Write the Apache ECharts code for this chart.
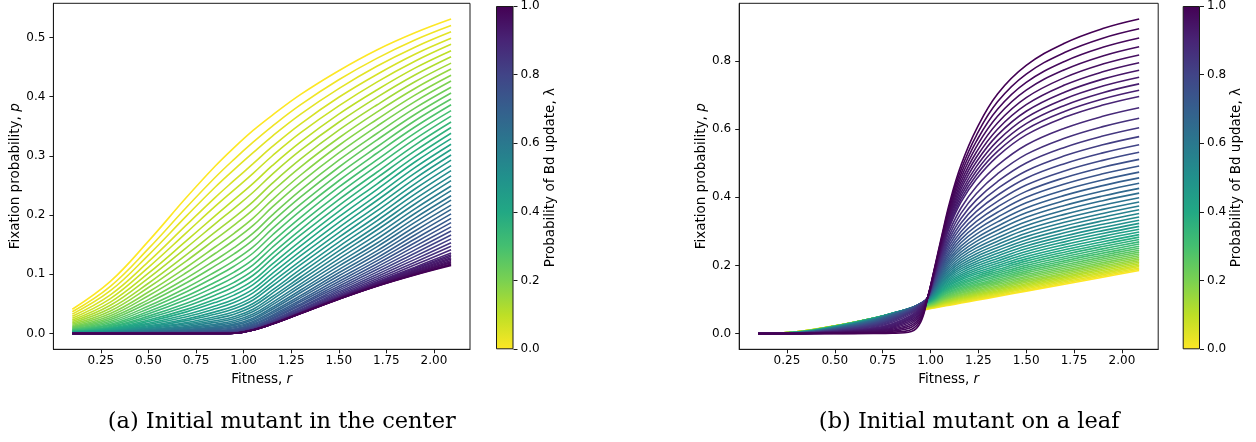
<!DOCTYPE html>
<html><head><meta charset="utf-8">
<script src="https://cdn.jsdelivr.net/npm/echarts@6/dist/echarts.min.js"></script>
<style>html,body{margin:0;padding:0;background:#fff}#c{width:1256px;height:442px}</style>
</head><body><div id="c"></div>
<script>
// lambda (probability of Bd update) for each drawn curve
const lambdas = [0,0.02,0.04,0.06,0.08,0.1,0.12,0.14,0.16,0.18,0.2,0.22,0.24,0.26,0.28,0.3,0.32,0.34,0.36,0.38,0.4,0.42,0.44,0.46,0.48,0.5,0.52,0.54,0.56,0.58,0.6,0.62,0.64,0.66,0.68,0.7,0.72,0.74,0.76,0.78,0.8,0.82,0.84,0.86,0.88,0.9,0.92,0.94,0.96,0.98,1];
// extra curves read between the ones above, closest to lambda = 1
const lambdasFine = [0.91,0.93,0.95,0.97,0.99];

// (a) initial mutant in the center: one array per fitness r, one entry per lambda
const rCenter = [0.1,0.3,0.5,0.7,0.85,0.95,1.05,1.15,1.3,1.5,1.7,1.9,2.09];
const pCenter = [
 [.041,.0367,.0328,.0291,.0259,.0229,.0203,.0179,.0157,.0137,.0120,.0105,.0091,.0078,.0067,.0057,.0049,.0041,.0035,.0030,.0025,.0021,.0017,.0014,.0011,.0009,.0007,.0006,.0005,.0004,.0003,.0002,.0002,.0001,.0001,.0001,.0001,0,0,0,0,0,0,0,0,0,0,0,0,0,0],
 [.088,.0798,.0723,.0653,.0590,.0531,.0477,.0426,.0381,.0339,.0302,.0267,.0236,.0207,.0182,.0158,.0138,.0119,.0103,.0088,.0076,.0064,.0054,.0045,.0038,.0031,.0026,.0021,.0017,.0014,.0011,.0009,.0007,.0005,.0004,.0003,.0002,.0001,.0001,0,0,0,0,0,0,0,0,0,0,0,0],
 [.156,.1433,.1325,.1213,.1118,.1019,.0936,.0849,.0777,.0701,.0639,.0573,.0520,.0464,.0419,.0372,.0334,.0294,.0262,.0228,.0202,.0174,.0153,.0131,.0114,.0096,.0083,.0069,.0059,.0048,.0040,.0032,.0026,.0020,.0016,.0013,.0010,.0007,.0005,.0003,.0002,.0001,.0001,0,0,0,0,0,0,0,0],
 [.230,.2132,.1986,.1834,.1704,.1568,.1452,.1331,.1228,.1120,.1030,.0936,.0857,.0774,.0705,.0633,.0574,.0511,.0461,.0408,.0366,.0321,.0285,.0247,.0218,.0187,.0164,.0139,.0120,.0100,.0085,.0069,.0058,.0046,.0038,.0029,.0024,.0018,.0014,.0010,.0007,.0004,.0003,.0002,.0001,0,0,0,0,0,0],
 [.2825,.2635,.2470,.2296,.2146,.1988,.1852,.1711,.1589,.1461,.1352,.1238,.1142,.1040,.0956,.0866,.0791,.0713,.0648,.0579,.0524,.0465,.0417,.0366,.0327,.0284,.0251,.0215,.0188,.0158,.0137,.0113,.0096,.0079,.0066,.0052,.0043,.0033,.0026,.0018,.0014,.0010,.0007,.0005,.0003,.0002,.0001,0,0,0,0],
 [.3140,.2942,.2768,.2585,.2426,.2260,.2115,.1962,.1831,.1693,.1575,.1450,.1344,.1232,.1137,.1037,.0953,.0864,.0791,.0712,.0649,.0580,.0524,.0465,.0418,.0367,.0327,.0283,.0251,.0215,.0188,.0159,.0138,.0114,.0097,.0078,.0066,.0052,.0043,.0033,.0027,.0020,.0016,.0011,.0009,.0007,.0006,.0005,.0005,.0005,.0005],
 [.343,.3231,.3054,.2869,.2706,.2536,.2386,.2229,.2092,.1949,.1825,.1694,.1581,.1462,.1360,.1252,.1161,.1065,.0984,.0898,.0826,.0750,.0687,.0620,.0566,.0507,.0461,.0411,.0372,.0329,.0296,.0260,.0234,.0205,.0184,.0160,.0144,.0126,.0114,.0100,.0092,.0082,.0077,.0070,.0067,.0063,.0062,.0061,.006,.006,.006],
 [.3685,.3499,.3331,.3155,.2998,.2834,.2689,.2535,.2399,.2257,.2133,.2001,.1887,.1766,.1660,.1549,.1453,.1351,.1265,.1172,.1094,.1011,.0940,.0865,.0803,.0733,.0679,.0621,.0574,.0523,.0483,.0439,.0406,.0369,.0341,.0310,.0288,.0263,.0246,.0226,.0213,.0198,.0190,.0179,.0174,.0167,.0165,.0162,.0161,.0160,.016],
 [.4038,.3864,.3706,.3541,.3392,.3236,.3096,.2948,.2816,.2677,.2553,.2423,.2306,.2184,.2076,.1962,.1861,.1756,.1664,.1566,.1482,.1391,.1315,.1232,.1162,.1086,.1022,.0955,.0900,.0839,.0790,.0735,.0693,.0642,.0606,.0566,.0536,.0501,.0477,.0449,.0430,.0408,.0394,.0377,.0368,.0356,.0351,.0345,.0342,.0341,.034],
 [.4438,.4285,.4136,.3989,.3845,.3705,.3568,.3433,.3302,.3175,.3050,.2927,.2808,.2693,.2580,.2471,.2364,.2260,.2161,.2063,.1969,.1878,.1790,.1705,.1623,.1545,.1469,.1396,.1327,.1261,.1197,.1138,.1080,.1026,.0975,.0924,.0879,.0838,.0800,.0765,.0733,.0704,.0678,.0655,.0635,.0618,.0604,.0594,.0586,.0582,.058],
 [.4788,.4646,.4513,.4375,.4246,.4112,.3988,.3859,.3739,.3614,.3499,.3378,.3267,.3150,.3044,.2932,.2830,.2723,.2627,.2524,.2431,.2333,.2246,.2152,.2070,.1981,.1903,.1820,.1748,.1669,.1597,.1524,.1463,.1395,.1339,.1277,.1227,.1175,.1126,.1080,.1037,.0997,.0960,.0927,.0897,.0870,.0848,.0829,.0814,.0804,.080],
 [.5078,.4956,.4835,.4716,.4597,.4481,.4365,.4251,.4138,.4025,.3916,.3806,.3699,.3593,.3488,.3384,.3282,.3182,.3083,.2986,.2896,.2801,.2708,.2617,.2528,.2440,.2354,.2269,.2187,.2106,.2027,.1950,.1876,.1803,.1732,.1664,.1597,.1534,.1472,.1413,.1357,.1303,.1252,.1205,.1160,.1120,.1083,.1050,.1023,.1001,.099],
 [.531,.5200,.5095,.4986,.4883,.4775,.4673,.4566,.4466,.4361,.4263,.4159,.4062,.3960,.3864,.3763,.3670,.3571,.3479,.3382,.3292,.3196,.3108,.3014,.2928,.2835,.2752,.2662,.2581,.2492,.2414,.2327,.2252,.2168,.2096,.2020,.1945,.1872,.1801,.1731,.1663,.1598,.1534,.1473,.1414,.1359,.1306,.1257,.1213,.1176,.115]
];
const pCenterFine = [
 [0,0,0,0,0],
 [0,0,0,0,0],
 [0,0,0,0,0],
 [0,0,0,0,0],
 [.0001,.0001,0,0,0],
 [.0006,.0005,.0005,.0005,.0005],
 [.0062,.0061,.0060,.0060,.0060],
 [.0166,.0163,.0161,.0160,.0160],
 [.0353,.0348,.0343,.0341,.0340],
 [.0611,.0599,.0590,.0584,.0581],
 [.0859,.0838,.0821,.0809,.0801],
 [.1101,.1066,.1036,.1012,.0994],
 [.1332,.1281,.1235,.1194,.1162]
];

// (b) initial mutant on a leaf
const rLeaf = [0.1,0.3,0.5,0.7,0.8,0.9,0.95,0.985,1.02,1.06,1.1,1.16,1.24,1.35,1.5,1.7,1.9,2.09];
const pLeaf = [
 [.0003,.0003,.0003,.0003,.0003,.0003,.0003,.0003,.0003,.0003,.0002,.0002,.0002,.0002,.0002,.0002,.0002,.0002,.0002,.0002,.0002,.0002,.0002,.0002,.0002,.0001,.0001,.0001,.0001,.0001,.0001,.0001,.0001,.0001,.0001,.0001,.0001,.0001,.0001,.0001,0,0,0,0,0,0,0,0,0,0,0],
 [.0055,.0054,.0053,.0051,.0050,.0049,.0048,.0047,.0045,.0044,.0043,.0042,.0041,.0039,.0038,.0037,.0036,.0035,.0033,.0032,.0031,.0030,.0029,.0027,.0026,.0025,.0024,.0023,.0021,.0020,.0019,.0018,.0017,.0016,.0015,.0014,.0013,.0012,.0011,.0010,.0009,.0008,.0007,.0006,.0005,.0004,.0003,.0002,.0002,.0001,0],
 [.0226,.0226,.0225,.0225,.0224,.0224,.0223,.0222,.0221,.0220,.0219,.0218,.0216,.0215,.0213,.0211,.0209,.0207,.0204,.0202,.0199,.0196,.0193,.0189,.0186,.0182,.0178,.0174,.0169,.0165,.0160,.0155,.0149,.0144,.0138,.0132,.0125,.0118,.0111,.0104,.0096,.0088,.0079,.0070,.0061,.0052,.0042,.0032,.0021,.0011,0],
 [.0430,.0433,.0435,.0438,.0440,.0442,.0444,.0445,.0446,.0447,.0448,.0448,.0448,.0448,.0448,.0448,.0447,.0446,.0444,.0442,.0440,.0437,.0433,.0430,.0426,.0422,.0417,.0411,.0405,.0399,.0392,.0384,.0375,.0366,.0356,.0345,.0333,.0319,.0304,.0288,.0270,.0250,.0229,.0206,.0181,.0155,.0126,.0096,.0065,.0033,.0002],
 [.0530,.0535,.0540,.0545,.0550,.0555,.0559,.0563,.0567,.0571,.0575,.0578,.0581,.0584,.0586,.0588,.0590,.0591,.0592,.0593,.0593,.0593,.0592,.0591,.0590,.0588,.0585,.0582,.0578,.0574,.0570,.0564,.0557,.0549,.0540,.0530,.0518,.0504,.0488,.0470,.0450,.0426,.0400,.0370,.0332,.0290,.0242,.0188,.0130,.0070,.0008],
 [.0630,.0637,.0644,.0651,.0658,.0665,.0672,.0678,.0685,.0691,.0697,.0703,.0708,.0713,.0718,.0723,.0727,.0731,.0735,.0739,.0742,.0745,.0747,.0749,.0751,.0753,.0754,.0755,.0755,.0755,.0755,.0754,.0752,.0749,.0745,.0740,.0734,.0726,.0716,.0704,.0690,.0672,.0650,.0623,.0586,.0540,.0480,.0400,.0300,.0185,.0060],
 [.0680,.0689,.0698,.0707,.0716,.0725,.0734,.0743,.0752,.0761,.0770,.0778,.0786,.0794,.0802,.0810,.0817,.0824,.0831,.0837,.0843,.0848,.0854,.0859,.0864,.0868,.0872,.0875,.0878,.0881,.0884,.0886,.0888,.0889,.0890,.0890,.0890,.0888,.0885,.0881,.0875,.0866,.0855,.0840,.0815,.0780,.0730,.0665,.0585,.0480,.0350],
 [.0718,.0729,.0741,.0752,.0764,.0775,.0786,.0797,.0808,.0819,.0830,.0841,.0852,.0863,.0874,.0885,.0895,.0905,.0915,.0925,.0935,.0944,.0953,.0961,.0970,.0978,.0985,.0992,.0999,.1006,.1012,.1018,.1023,.1028,.1033,.1037,.1041,.1044,.1047,.1050,.1053,.1055,.1057,.1058,.1059,.1060,.1060,.1058,.1056,.1053,.1050],
 [.0753,.0766,.0779,.0792,.0806,.0820,.0834,.0848,.0863,.0878,.0893,.0908,.0924,.0940,.0957,.0974,.0991,.1008,.1026,.1044,.1063,.1082,.1102,.1122,.1142,.1163,.1184,.1206,.1228,.1251,.1274,.1298,.1323,.1348,.1374,.1401,.1428,.1456,.1484,.1514,.1544,.1575,.1607,.1640,.1674,.1709,.1745,.1782,.1820,.1859,.1900],
 [.0794,.0813,.0832,.0851,.0871,.0891,.0912,.0933,.0955,.0978,.1001,.1024,.1048,.1073,.1099,.1125,.1152,.1179,.1208,.1237,.1267,.1298,.1330,.1363,.1397,.1432,.1468,.1506,.1544,.1584,.1625,.1668,.1712,.1758,.1805,.1855,.1906,.1959,.2013,.2071,.2131,.2193,.2258,.2326,.2397,.2471,.2549,.2630,.2716,.2806,.2900],
 [.0835,.0857,.0879,.0902,.0926,.0950,.0975,.1001,.1027,.1054,.1082,.1111,.1141,.1171,.1203,.1235,.1269,.1304,.1339,.1376,.1415,.1455,.1496,.1538,.1583,.1628,.1676,.1726,.1777,.1831,.1887,.1945,.2006,.2069,.2136,.2206,.2278,.2355,.2435,.2520,.2609,.2702,.2801,.2906,.3017,.3135,.3260,.3393,.3535,.3687,.3850],
 [.0896,.0921,.0947,.0973,.1000,.1028,.1057,.1087,.1117,.1149,.1182,.1215,.1250,.1286,.1323,.1362,.1402,.1443,.1486,.1531,.1577,.1626,.1676,.1728,.1782,.1839,.1898,.1960,.2024,.2092,.2163,.2237,.2315,.2398,.2484,.2575,.2672,.2773,.2881,.2996,.3117,.3247,.3385,.3533,.3692,.3862,.4046,.4245,.4460,.4694,.4950],
 [.0978,.1006,.1034,.1063,.1093,.1124,.1157,.1190,.1224,.1259,.1296,.1334,.1373,.1414,.1456,.1499,.1545,.1592,.1641,.1692,.1745,.1800,.1858,.1918,.1981,.2047,.2115,.2188,.2263,.2343,.2427,.2515,.2608,.2706,.2810,.2920,.3037,.3162,.3294,.3436,.3587,.3749,.3924,.4112,.4316,.4537,.4778,.5041,.5329,.5647,.6000],
 [.1090,.1120,.1151,.1183,.1216,.1251,.1286,.1322,.1360,.1399,.1439,.1481,.1525,.1570,.1616,.1665,.1715,.1768,.1822,.1879,.1939,.2000,.2065,.2133,.2204,.2278,.2356,.2438,.2524,.2614,.2710,.2811,.2918,.3031,.3151,.3278,.3414,.3559,.3715,.3881,.4060,.4253,.4461,.4687,.4934,.5202,.5497,.5822,.6181,.6582,.7030],
 [.1246,.1280,.1314,.1350,.1387,.1425,.1464,.1505,.1547,.1591,.1636,.1682,.1731,.1781,.1833,.1887,.1943,.2002,.2063,.2126,.2192,.2261,.2334,.2409,.2488,.2571,.2658,.2749,.2845,.2946,.3053,.3165,.3284,.3410,.3544,.3686,.3838,.4000,.4173,.4359,.4558,.4773,.5006,.5258,.5532,.5832,.6161,.6523,.6924,.7370,.7870],
 [.1450,.1486,.1523,.1561,.1600,.1641,.1683,.1727,.1771,.1818,.1866,.1916,.1967,.2021,.2077,.2134,.2194,.2257,.2322,.2389,.2460,.2534,.2611,.2691,.2776,.2864,.2957,.3054,.3157,.3264,.3378,.3498,.3625,.3760,.3903,.4055,.4216,.4389,.4574,.4772,.4985,.5215,.5463,.5732,.6025,.6345,.6695,.7082,.7510,.7986,.8520],
 [.1654,.1691,.1729,.1769,.1809,.1851,.1895,.1939,.1986,.2034,.2083,.2135,.2188,.2243,.2301,.2360,.2422,.2486,.2554,.2623,.2696,.2772,.2852,.2935,.3022,.3113,.3209,.3309,.3415,.3526,.3644,.3768,.3899,.4038,.4185,.4342,.4509,.4687,.4878,.5082,.5302,.5539,.5795,.6073,.6375,.6705,.7067,.7466,.7908,.8399,.8950],
 [.1850,.1888,.1926,.1966,.2007,.2050,.2093,.2139,.2185,.2234,.2284,.2336,.2390,.2446,.2504,.2564,.2627,.2692,.2760,.2831,.2904,.2981,.3062,.3146,.3234,.3326,.3423,.3524,.3631,.3744,.3863,.3988,.4121,.4261,.4410,.4569,.4738,.4918,.5111,.5318,.5540,.5780,.6039,.6320,.6625,.6959,.7326,.7729,.8176,.8673,.9230]
];
const pLeafFine = [
 [0,0,0,0,0],
 [.0003,.0002,.0002,.0001,0],
 [.0047,.0037,.0026,.0016,.0005],
 [.0141,.0111,.0081,.0049,.0018],
 [.0267,.0215,.0159,.0100,.0039],
 [.0512,.0442,.0352,.0243,.0123],
 [.0756,.0699,.0627,.0535,.0417],
 [.1060,.1059,.1057,.1055,.1052],
 [.1727,.1763,.1801,.1840,.1880],
 [.2510,.2589,.2673,.2760,.2852],
 [.3196,.3325,.3463,.3610,.3767],
 [.3952,.4143,.4350,.4575,.4819],
 [.4655,.4906,.5181,.5484,.5819],
 [.5346,.5656,.5997,.6376,.6799],
 [.5992,.6337,.6718,.7141,.7613],
 [.6516,.6884,.7291,.7742,.8245],
 [.6882,.7262,.7681,.8147,.8667],
 [.7138,.7522,.7947,.8418,.8943]
];

// tick labels
const xTicks = [0.25,0.5,0.75,1.0,1.25,1.5,1.75,2.0];
const yTicksCenter = [0,0.1,0.2,0.3,0.4,0.5];
const yTicksLeaf = [0,0.2,0.4,0.6,0.8];
const cbTicks = [0,0.2,0.4,0.6,0.8,1.0];
const captions = ['(a) Initial mutant in the center','(b) Initial mutant on a leaf'];

// viridis colormap stops (style)
const viridis = ['#440154','#482475','#414487','#355f8d','#2a788e','#21918c','#22a884','#44bf70','#7ad151','#bddf26','#fde725'];
function hex2rgb(h){return [parseInt(h.slice(1,3),16),parseInt(h.slice(3,5),16),parseInt(h.slice(5,7),16)];}
function cmap(t){
  t=Math.max(0,Math.min(1,t));
  const s=t*10, i=Math.min(9,Math.floor(s)), f=s-i;
  const a=hex2rgb(viridis[i]), b=hex2rgb(viridis[i+1]);
  const c=a.map((v,k)=>Math.round(v+(b[k]-v)*f));
  return 'rgb('+c.join(',')+')';
}
const lamColor = lam => cmap(1-lam);

const FONT='DejaVu Sans', INK='#000', SPINE='#1a1a1a';

// every curve, drawn in increasing lambda (purple on top)
const curves = [];
lambdas.forEach((lam,j)=>curves.push({lam:lam, pick:(main,fine,i)=>main[i][j]}));
lambdasFine.forEach((lam,j)=>curves.push({lam:lam, pick:(main,fine,i)=>fine[i][j]}));
curves.sort((a,b)=>a.lam-b.lam);

function buildSeries(rs, main, fine, idx){
  return curves.map(cv=>({
    type:'line', xAxisIndex:idx, yAxisIndex:idx, symbol:'none', showSymbol:false,
    smooth:0.4, silent:true, animation:false,
    lineStyle:{width:1.6, color:lamColor(cv.lam)}, itemStyle:{color:lamColor(cv.lam)},
    data: rs.map((r,i)=>[r, cv.pick(main,fine,i)])
  }));
}

function xAxisMain(idx){
  return {type:'value', gridIndex:idx, min:0.0005, max:2.1895,
    axisLine:{show:true, onZero:false, lineStyle:{color:SPINE,width:1}},
    axisTick:{show:true, inside:false, length:4, customValues:xTicks, lineStyle:{color:SPINE}},
    axisLabel:{customValues:xTicks, formatter:v=>v.toFixed(2), color:INK, fontFamily:FONT, fontSize:12, margin:6},
    splitLine:{show:false},
    name:'Fitness, {i|r}', nameLocation:'middle', nameGap:21,
    nameTextStyle:{color:INK, fontFamily:FONT, fontSize:13.5, verticalAlign:'top',
      rich:{i:{fontStyle:'italic', fontFamily:FONT, fontSize:13.5, color:INK}}}
  };
}
function yAxisMain(idx, min, max, ticks){
  return {type:'value', gridIndex:idx, min:min, max:max,
    axisLine:{show:true, onZero:false, lineStyle:{color:SPINE,width:1}},
    axisTick:{show:true, inside:false, length:4, customValues:ticks, lineStyle:{color:SPINE}},
    axisLabel:{customValues:ticks, formatter:v=>v.toFixed(1), color:INK, fontFamily:FONT, fontSize:12, margin:8},
    splitLine:{show:false},
    name:'Fixation probability, {i|p}', nameLocation:'middle', nameGap:31, nameRotate:90,
    nameTextStyle:{color:INK, fontFamily:FONT, fontSize:13.5,
      rich:{i:{fontStyle:'italic', fontFamily:FONT, fontSize:13.5, color:INK}}}
  };
}
function cbX(idx){return {type:'category', gridIndex:idx, data:['cb'], show:false, boundaryGap:true};}
function cbY(idx){
  return {type:'value', gridIndex:idx, min:0, max:1, position:'right',
    axisLine:{show:false},
    axisTick:{show:true, inside:false, length:4, customValues:cbTicks, lineStyle:{color:SPINE}},
    axisLabel:{customValues:cbTicks, formatter:v=>v.toFixed(1), color:INK, fontFamily:FONT, fontSize:12, margin:7},
    splitLine:{show:false},
    name:'Probability of Bd update, λ', nameLocation:'middle', nameGap:27, nameRotate:90,
    nameTextStyle:{color:INK, fontFamily:FONT, fontSize:13.5}
  };
}
function cbSeries(idx){
  const stops = viridis.map((c,k)=>({offset:k/10, color:c}));
  return {type:'bar', xAxisIndex:idx, yAxisIndex:idx, data:[1], barWidth:'100%', silent:true, animation:false,
    itemStyle:{color:new echarts.graphic.LinearGradient(0,0,0,1,stops), borderColor:SPINE, borderWidth:1}};
}

// sanity check of table shapes
const problems=[];
pCenter.forEach((c,i)=>{if(c.length!==lambdas.length)problems.push('C'+i+':'+c.length);});
pLeaf.forEach((c,i)=>{if(c.length!==lambdas.length)problems.push('L'+i+':'+c.length);});
pCenterFine.forEach((c,i)=>{if(c.length!==lambdasFine.length)problems.push('CF'+i+':'+c.length);});
pLeafFine.forEach((c,i)=>{if(c.length!==lambdasFine.length)problems.push('LF'+i+':'+c.length);});
if(pCenter.length!==rCenter.length||pCenterFine.length!==rCenter.length)problems.push('nC');
if(pLeaf.length!==rLeaf.length||pLeafFine.length!==rLeaf.length)problems.push('nL');

const chart = echarts.init(document.getElementById('c'), null, {renderer:'canvas'});
const gridBox = {show:true, borderColor:SPINE, borderWidth:1, backgroundColor:'rgba(0,0,0,0)'};
const graphics = [
  {type:'text', style:{x:281.7, y:422, text:captions[0], font:'22.5px "DejaVu Serif"', fill:INK, align:'center', verticalAlign:'middle', textAlign:'center', textVerticalAlign:'middle'}},
  {type:'text', style:{x:969.2, y:422, text:captions[1], font:'22.5px "DejaVu Serif"', fill:INK, align:'center', verticalAlign:'middle', textAlign:'center', textVerticalAlign:'middle'}}
];
if(problems.length) graphics.push({type:'text', style:{x:600, y:200, text:'BAD '+problems.join(' '), font:'16px sans-serif', fill:'red'}});
chart.setOption({
  animation:false,
  backgroundColor:'#fff',
  grid:[
    Object.assign({left:53.4, top:3.3, width:416.6, height:346}, gridBox),
    Object.assign({left:739.2, top:3.3, width:419, height:346}, gridBox),
    {left:496, top:3.3, width:17.5, height:346},
    {left:1182.7, top:3.3, width:17.3, height:346}
  ],
  xAxis:[xAxisMain(0), xAxisMain(1), cbX(2), cbX(3)],
  yAxis:[yAxisMain(0,-0.0266,0.5576,yTicksCenter), yAxisMain(1,-0.0461,0.9691,yTicksLeaf), cbY(2), cbY(3)],
  series:[].concat(buildSeries(rCenter,pCenter,pCenterFine,0), buildSeries(rLeaf,pLeaf,pLeafFine,1), [cbSeries(2), cbSeries(3)]),
  graphic:graphics
});
</script>
</body></html>
